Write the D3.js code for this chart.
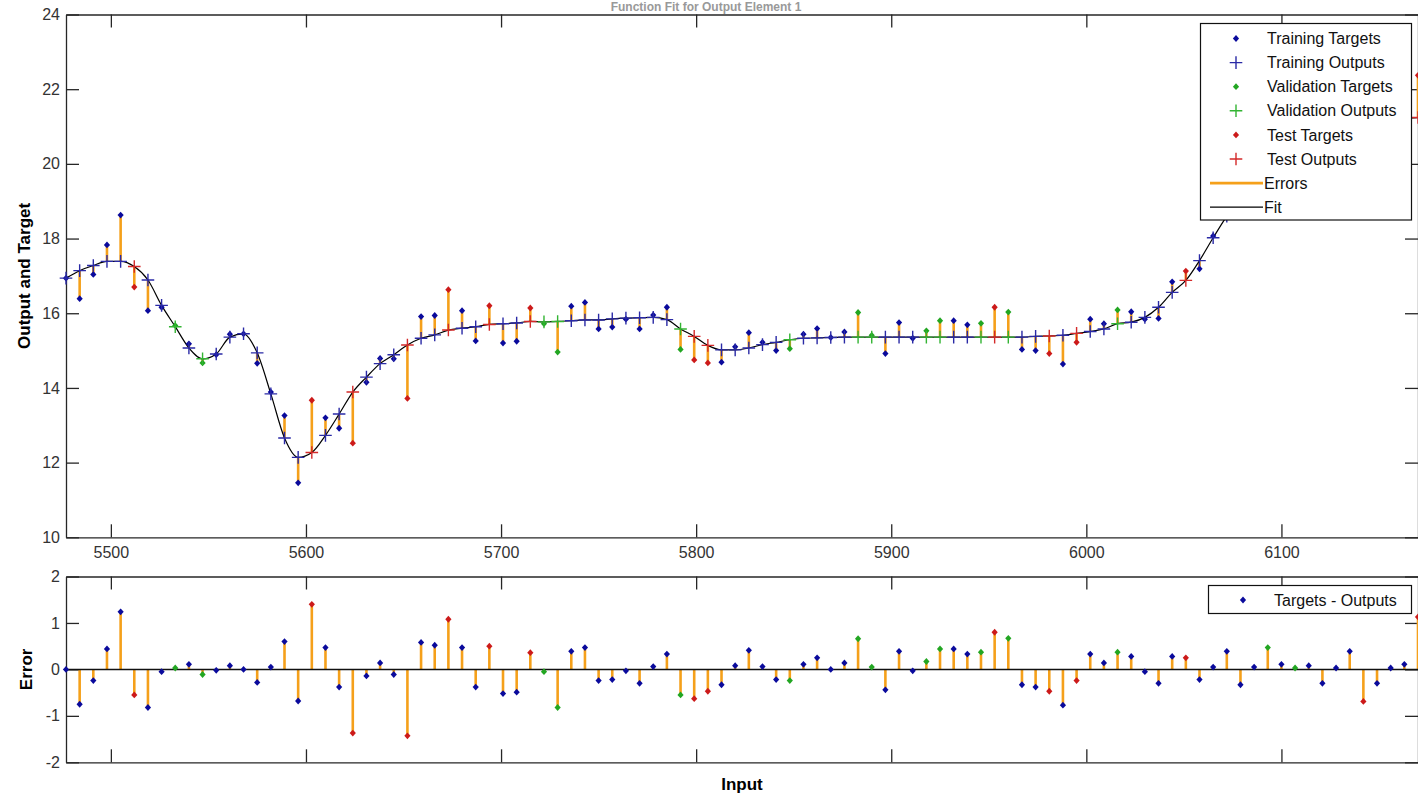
<!DOCTYPE html>
<html>
<head>
<meta charset="utf-8">
<script src="https://cdn.jsdelivr.net/npm/d3@7"></script>
<style>
  body { margin: 0; background: #fff; }
  text { font-family: Arial, "Liberation Sans", Helvetica, sans-serif; }
</style>
</head>
<body>
<div id="chart"></div>
<script>
// Function fit: targets, outputs and errors for one output element

var inputs = [5477,5484,5491,5498,5505,5512,5519,5526,5533,5540,
  5547,5554,5561,5568,5575,5582,5589,5596,5603,5610,
  5617,5624,5631,5638,5645,5652,5659,5666,5673,5680,
  5687,5694,5701,5708,5715,5722,5729,5736,5743,5750,
  5757,5764,5771,5778,5785,5792,5799,5806,5813,5820,
  5827,5834,5841,5848,5855,5862,5869,5876,5883,5890,
  5897,5904,5911,5918,5925,5932,5939,5946,5953,5960,
  5967,5974,5981,5988,5995,6002,6009,6016,6023,6030,
  6037,6044,6051,6058,6065,6072,6079,6086,6093,6100,
  6107,6114,6121,6128,6135,6142,6149,6156,6163,6170];

// network outputs (the "+" marks)
var outputs = [16.94,17.14,17.28,17.39,17.39,17.25,16.89,16.21,15.64,15.07,
  14.78,14.91,15.36,15.45,14.94,13.84,12.66,12.14,12.27,12.73,
  13.30,13.89,14.29,14.65,14.89,15.15,15.33,15.42,15.55,15.60,
  15.64,15.70,15.72,15.74,15.78,15.77,15.78,15.80,15.82,15.82,
  15.85,15.87,15.88,15.89,15.83,15.58,15.38,15.14,15.02,15.02,
  15.07,15.16,15.22,15.29,15.33,15.34,15.35,15.36,15.36,15.36,
  15.36,15.36,15.36,15.36,15.36,15.36,15.36,15.36,15.36,15.36,
  15.36,15.38,15.39,15.41,15.46,15.51,15.58,15.72,15.76,15.89,
  16.16,16.56,16.88,17.41,18.02,18.60,19.10,19.50,19.85,20.15,
  20.40,20.60,20.75,20.87,20.97,21.05,21.12,21.18,21.22,21.24];

// targets - outputs
var errors = [0.00,-0.75,-0.24,0.44,1.24,-0.55,-0.82,-0.05,0.03,0.11,
  -0.11,-0.02,0.08,0.00,-0.28,0.05,0.60,-0.68,1.40,0.47,
  -0.38,-1.37,-0.14,0.14,-0.11,-1.43,0.58,0.52,1.08,0.47,
  -0.38,0.50,-0.52,-0.49,0.36,-0.05,-0.82,0.39,0.47,-0.24,
  -0.22,-0.03,-0.30,0.06,0.33,-0.55,-0.63,-0.47,-0.33,0.08,
  0.41,0.06,-0.22,-0.24,0.11,0.25,0.00,0.14,0.66,0.05,
  -0.44,0.39,-0.03,0.17,0.44,0.44,0.33,0.37,0.80,0.67,
  -0.33,-0.38,-0.47,-0.77,-0.24,0.33,0.14,0.37,0.28,-0.05,
  -0.30,0.28,0.25,-0.22,0.05,0.39,-0.33,0.05,0.47,0.11,
  0.03,0.08,-0.30,0.03,0.39,-0.69,-0.30,0.03,0.11,1.13];

// T = training, V = validation, S = test
var sets = ["T","T","T","T","T","S","T","T","V","T",
  "V","T","T","T","T","T","T","T","S","T",
  "T","S","T","T","T","S","T","T","S","T",
  "T","S","T","T","S","V","V","T","T","T",
  "T","T","T","T","T","V","S","S","T","T",
  "T","T","T","V","T","T","T","T","V","V",
  "T","T","T","V","V","T","T","V","S","V",
  "T","T","S","T","S","T","T","V","T","T",
  "T","T","S","T","T","T","T","T","V","T",
  "V","T","T","T","T","S","T","T","T","S"];

var xTicks = [5500,5600,5700,5800,5900,6000,6100];
var yTicksFit = [10,12,14,16,18,20,22,24];
var yTicksErr = [-2,-1,0,1,2];
var legendLabels = ["Training Targets","Training Outputs","Validation Targets","Validation Outputs",
  "Test Targets","Test Outputs","Errors","Fit"];

var dotColor = {T: "#0a0a9c", V: "#22a622", S: "#cc1a1a"};
var plusColor = {T: "#2a2aa6", V: "#33b433", S: "#d42a2a"};
var errColor = "#f5a01a";
var axisColor = "#262626";

var W = 1418, H = 799;
var left = 66, right = 1418;

var data = inputs.map(function(x, i) {
  return {x: x, out: outputs[i], err: errors[i], tgt: outputs[i] + errors[i], set: sets[i]};
});

var svg = d3.select("#chart").append("svg")
  .attr("width", W).attr("height", H)
  .style("display", "block");

svg.append("rect").attr("width", W).attr("height", H).attr("fill", "#fff");

var x = d3.scaleLinear().domain([inputs[0], inputs[inputs.length - 1]]).range([left, right]);
var yFit = d3.scaleLinear().domain([10, 24]).range([537.3, 14.5]);
var yErr = d3.scaleLinear().domain([-2, 2]).range([762.3, 576.5]);

// matlab '.' marker looks like a small diamond
var dot = "M0,-3.4L3.1,0L0,3.4L-3.1,0Z";

function plusPath(cx, cy) {
  var r = 6.3;
  return "M" + (cx - r) + "," + cy + "H" + (cx + r) + "M" + cx + "," + (cy - r) + "V" + (cy + r);
}

function plainNum(d) { return String(d); }

// box axes, ticks pointing in (matlab style)
function drawAxes(y, yTicks, showX) {
  var top = y.range()[1], bottom = y.range()[0];
  var g = svg.append("g").attr("class", "axes");

  g.append("g").attr("transform", "translate(0," + bottom + ")")
    .call(d3.axisBottom(x).tickValues(xTicks).tickSizeInner(-13).tickSizeOuter(0).tickPadding(9)
      .tickFormat(showX ? plainNum : ""));
  g.append("g").attr("transform", "translate(0," + top + ")")
    .call(d3.axisTop(x).tickValues(xTicks).tickSizeInner(-13).tickSizeOuter(0).tickFormat(""));
  g.append("g").attr("transform", "translate(" + left + ",0)")
    .call(d3.axisLeft(y).tickValues(yTicks).tickSizeInner(-13).tickSizeOuter(0).tickPadding(6)
      .tickFormat(plainNum));
  g.append("g").attr("transform", "translate(" + right + ",0)")
    .call(d3.axisRight(y).tickValues(yTicks).tickSizeInner(-13).tickSizeOuter(0).tickFormat(""));

  g.selectAll("path.domain").attr("stroke", axisColor).attr("stroke-width", 1.3);
  g.selectAll(".tick line").attr("stroke", axisColor).attr("stroke-width", 1.3);
  g.selectAll(".tick text").attr("fill", "#333").style("font-size", "16px");
  return g;
}

// ---------- upper panel : fit ----------
drawAxes(yFit, yTicksFit, true);

var upper = svg.append("g").attr("class", "fit-panel");

upper.selectAll("line.err")
  .data(data).enter().append("line")
  .attr("class", "err")
  .attr("x1", function(d) { return x(d.x); })
  .attr("x2", function(d) { return x(d.x); })
  .attr("y1", function(d) { return yFit(d.out); })
  .attr("y2", function(d) { return yFit(d.tgt); })
  .attr("stroke", errColor)
  .attr("stroke-width", 2.6);

var fitLine = d3.line()
  .x(function(d) { return x(d.x); })
  .y(function(d) { return yFit(d.out); })
  .curve(d3.curveMonotoneX);

upper.append("path")
  .datum(data)
  .attr("d", fitLine)
  .attr("fill", "none")
  .attr("stroke", "#000")
  .attr("stroke-width", 1.2);

upper.selectAll("path.tgt")
  .data(data).enter().append("path")
  .attr("class", "tgt")
  .attr("d", dot)
  .attr("transform", function(d) { return "translate(" + x(d.x) + "," + yFit(d.tgt) + ")"; })
  .attr("fill", function(d) { return dotColor[d.set]; });

upper.selectAll("path.out")
  .data(data).enter().append("path")
  .attr("class", "out")
  .attr("d", function(d) { return plusPath(x(d.x), yFit(d.out)); })
  .attr("stroke", function(d) { return plusColor[d.set]; })
  .attr("stroke-width", 1.4)
  .attr("fill", "none");

// ---------- lower panel : errors ----------
drawAxes(yErr, yTicksErr, false);

var lower = svg.append("g").attr("class", "err-panel");

lower.selectAll("line.stem")
  .data(data).enter().append("line")
  .attr("class", "stem")
  .attr("x1", function(d) { return x(d.x); })
  .attr("x2", function(d) { return x(d.x); })
  .attr("y1", yErr(0))
  .attr("y2", function(d) { return yErr(d.err); })
  .attr("stroke", errColor)
  .attr("stroke-width", 2.6);

lower.append("line")
  .attr("x1", left).attr("x2", right)
  .attr("y1", yErr(0)).attr("y2", yErr(0))
  .attr("stroke", "#111").attr("stroke-width", 1.5);

lower.selectAll("path.edot")
  .data(data).enter().append("path")
  .attr("class", "edot")
  .attr("d", dot)
  .attr("transform", function(d) { return "translate(" + x(d.x) + "," + yErr(d.err) + ")"; })
  .attr("fill", function(d) { return dotColor[d.set]; });

// ---------- labels ----------
// title sits in the thin strip above the axes (mostly cropped in the source)
svg.append("text")
  .attr("x", 706).attr("y", 11)
  .attr("text-anchor", "middle")
  .style("font-size", "12px").style("font-weight", "bold")
  .attr("fill", "#999")
  .text("Function Fit for Output Element 1");

svg.append("text")
  .attr("transform", "translate(30," + ((14.5 + 537.3) / 2) + ") rotate(-90)")
  .attr("text-anchor", "middle")
  .style("font-size", "17px").style("font-weight", "bold")
  .text("Output and Target");

svg.append("text")
  .attr("transform", "translate(32," + ((576.5 + 762.3) / 2) + ") rotate(-90)")
  .attr("text-anchor", "middle")
  .style("font-size", "17px").style("font-weight", "bold")
  .text("Error");

svg.append("text")
  .attr("x", (left + right) / 2).attr("y", 790)
  .attr("text-anchor", "middle")
  .style("font-size", "17px").style("font-weight", "bold")
  .text("Input");

// ---------- legends ----------
var leg = svg.append("g").attr("class", "legend");
leg.append("rect")
  .attr("x", 1200.5).attr("y", 23.5).attr("width", 211).attr("height", 196.5)
  .attr("fill", "#fff").attr("stroke", "#111").attr("stroke-width", 1.2);

var legSets = ["T","T","V","V","S","S"];
legendLabels.forEach(function(label, i) {
  var cy = 38.5 + i * 24.1;
  if (i < 6) {
    if (i % 2 === 0) {
      leg.append("path").attr("d", dot)
        .attr("transform", "translate(1236," + cy + ")")
        .attr("fill", dotColor[legSets[i]]);
    } else {
      leg.append("path").attr("d", plusPath(1236, cy))
        .attr("stroke", plusColor[legSets[i]]).attr("stroke-width", 1.4);
    }
  } else {
    leg.append("line")
      .attr("x1", 1210).attr("x2", 1263).attr("y1", cy).attr("y2", cy)
      .attr("stroke", i === 6 ? errColor : "#000")
      .attr("stroke-width", i === 6 ? 2.6 : 1.2);
  }
  leg.append("text")
    .attr("x", i < 6 ? 1267 : 1264).attr("y", cy).attr("dy", "0.35em")
    .style("font-size", "16px").attr("fill", "#111")
    .text(label);
});

var leg2 = svg.append("g").attr("class", "legend-err");
leg2.append("rect")
  .attr("x", 1208.5).attr("y", 585.5).attr("width", 203).attr("height", 28)
  .attr("fill", "#fff").attr("stroke", "#111").attr("stroke-width", 1.2);
leg2.append("path").attr("d", dot)
  .attr("transform", "translate(1243,600)")
  .attr("fill", dotColor.T);
leg2.append("text")
  .attr("x", 1274).attr("y", 600).attr("dy", "0.35em")
  .style("font-size", "16px").attr("fill", "#111")
  .text("Targets - Outputs");
</script>
</body>
</html>
